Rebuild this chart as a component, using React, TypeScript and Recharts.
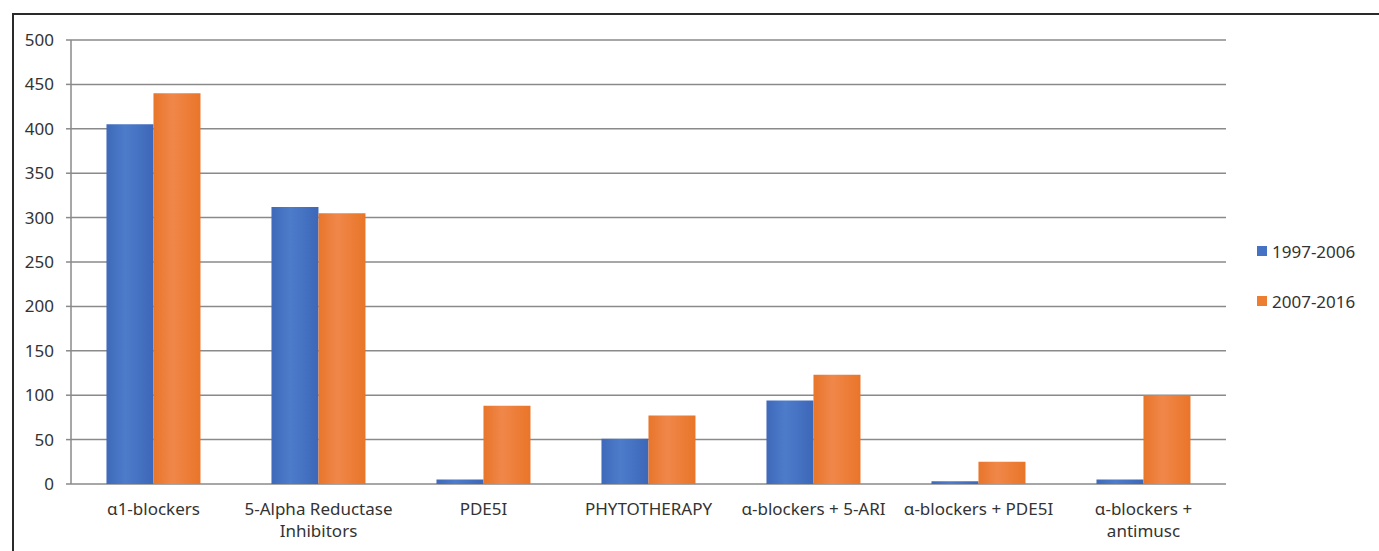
import { BarChart, Bar, XAxis, YAxis, CartesianGrid, Legend } from "recharts";

const categories = [
    "α1-blockers",
    "5-Alpha Reductase\nInhibitors",
    "PDE5I",
    "PHYTOTHERAPY",
    "α-blockers + 5-ARI",
    "α-blockers + PDE5I",
    "α-blockers +\nantimusc",
];
const period1 = [405, 312, 5, 51, 94, 3, 5];
const period2 = [440, 305, 88, 77, 123, 25, 100];
const yTicks = [0, 50, 100, 150, 200, 250, 300, 350, 400, 450, 500];
const seriesNames = ["1997-2006", "2007-2016"];

const FONT = "'Noto Sans', 'Open Sans', sans-serif";
const INK = "#333333";
const GRID = "#8a8a8a";
const BLUE = "#4672c4";
const ORANGE = "#ed7d31";

const data = categories.map((name, i) => ({
    name,
    idx: i,
    p1: period1[i],
    p2: period2[i],
}));

// Multi-line category labels; "\n" in the name marks the break.
function CategoryTick({ x, y, payload }: any) {
    const lines = String(payload.value).split("\n");
    return (
        <text x={x} y={y} textAnchor="middle" fill={INK} fontSize={17} fontFamily={FONT}>
            {lines.map((line, i) => (
                <tspan key={i} x={x} dy={i === 0 ? 11 : 22}>
                    {line}
                </tspan>
            ))}
        </text>
    );
}

function LegendContent() {
    const colors = [BLUE, ORANGE];
    return (
        <div style={{ fontFamily: FONT, fontSize: 17, color: INK }}>
            {seriesNames.map((s, i) => (
                <div key={s} style={{ display: "flex", alignItems: "center", height: 22, marginBottom: i === 0 ? 28 : 0 }}>
                    <span style={{ width: 10, height: 10, background: colors[i], display: "inline-block", marginRight: 5 }} />
                    <span>{s}</span>
                </div>
            ))}
        </div>
    );
}

export default function App() {
    return (
        <div style={{ position: "absolute", left: 0, top: 0, width: 1379, height: 551, background: "#fff", overflow: "hidden" }}>
            <div
                style={{
                    position: "absolute",
                    left: 12,
                    top: 13,
                    width: 1400,
                    height: 600,
                    borderTop: "2px solid #2a2a2a",
                    borderLeft: "2px solid #2a2a2a",
                }}
            />
            <BarChart
                width={1379}
                height={551}
                data={data}
                margin={{ top: 40, right: 153, left: 0, bottom: 0 }}
                barCategoryGap="21.5%"
                barGap={0}
                style={{ position: "absolute", left: 0, top: 0 }}
            >
                <defs>
                    <linearGradient id="gBlue" x1="0" y1="0" x2="1" y2="0">
                        <stop offset="0%" stopColor="#3f69ba" />
                        <stop offset="40%" stopColor="#4d7ccb" />
                        <stop offset="100%" stopColor="#3d67b8" />
                    </linearGradient>
                    <linearGradient id="gOrange" x1="0" y1="0" x2="1" y2="0">
                        <stop offset="0%" stopColor="#e8752a" />
                        <stop offset="40%" stopColor="#f0874a" />
                        <stop offset="100%" stopColor="#e97528" />
                    </linearGradient>
                </defs>
                <CartesianGrid stroke={GRID} strokeWidth={1.5} vertical={false} xAxisId="cat" />
                <XAxis
                    xAxisId="grid"
                    type="number"
                    dataKey="idx"
                    domain={[0, 7]}
                    ticks={[0, 1, 2, 3, 4, 5, 6, 7]}
                    tick={() => <g />}
                    height={0}
                    stroke={GRID}
                    strokeWidth={1.5}
                    tickSize={5}
                />
                <XAxis
                    xAxisId="cat"
                    dataKey="name"
                    interval={0}
                    axisLine={false}
                    tickLine={false}
                    height={67}
                    tickSize={0}
                    tickMargin={20}
                    tick={<CategoryTick />}
                />
                <YAxis
                    domain={[0, 500]}
                    ticks={yTicks}
                    width={71}
                    stroke={GRID}
                    strokeWidth={1.5}
                    tickSize={5}
                    tickMargin={12}
                    tick={{ fill: INK, fontSize: 17, fontFamily: FONT }}
                />
                <Legend
                    layout="vertical"
                    align="center"
                    verticalAlign="middle"
                    wrapperStyle={{ left: 1257, top: 240, width: 120 }}
                    content={<LegendContent />}
                />
                <Bar xAxisId="cat" dataKey="p1" name={seriesNames[0]} fill="url(#gBlue)" isAnimationActive={false} />
                <Bar xAxisId="cat" dataKey="p2" name={seriesNames[1]} fill="url(#gOrange)" isAnimationActive={false} />
            </BarChart>
        </div>
    );
}
